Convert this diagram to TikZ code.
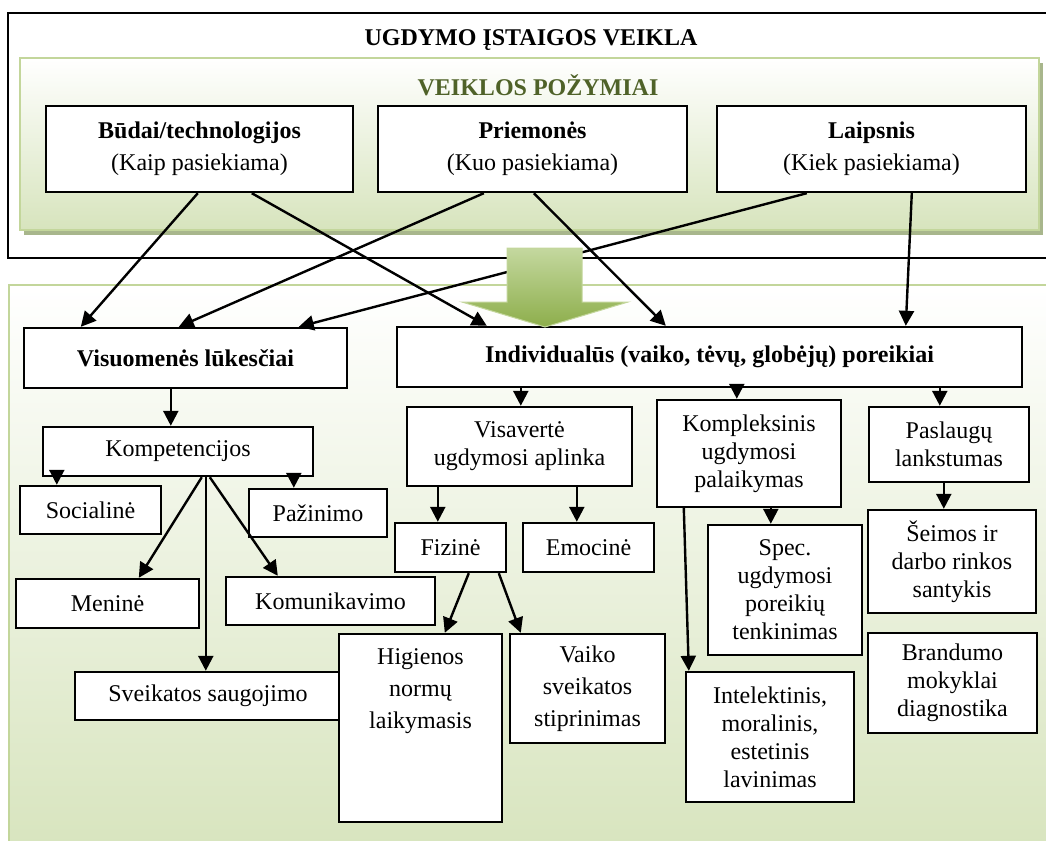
\documentclass[tikz,border=0pt]{standalone}
\usepackage{fontspec}
\setmainfont{Liberation Serif}
\usetikzlibrary{arrows.meta,calc,shadows}

\definecolor{panelgreen}{HTML}{D7E4BD}
\definecolor{panelline}{HTML}{C3D69B}
\definecolor{olivetext}{HTML}{4F6228}
\definecolor{shadowgreen}{RGB}{168,182,140}
\definecolor{arrowlight}{HTML}{C4D89F}
\definecolor{arrowdark}{HTML}{8DAE4B}

\tikzset{
  box/.style={draw=black, fill=white, line width=1.2pt, inner sep=0pt, align=center,
    font=\fontsize{12}{14}\selectfont,
    drop shadow={shadow xshift=0.6pt, shadow yshift=-0.6pt, fill=black!55, opacity=0.6}},
  tall/.style={font=\fontsize{12}{16}\selectfont},
  headbox/.style={font=\bfseries\fontsize{12}{14}\selectfont},
  conn/.style={line width=1.2pt, -{Triangle[length=7.5pt,width=7.5pt]}},
  panel/.style={draw=panelline, line width=1pt, top color=white, bottom color=panelgreen},
}

% \boxat[options]{name}{x1}{y1}{x2}{y2}{text}: a box given by its corners
\newcommand\boxat[7][]{%
  \node[box,minimum width={(#5-#3)*0.5pt},minimum height={(#6-#4)*0.5pt},#1]
    (#2) at ({(#3+#5)/2},{(#4+#6)/2}) {#7};}

\begin{document}
\begin{tikzpicture}[x=0.5pt,y=-0.5pt]
\useasboundingbox (0,0) rectangle (1046,841);

% lower panel
\draw[panel] (9,285) rectangle (1070,860);

% outer frame of the institution's activity
\draw[line width=1.2pt] (8,13) rectangle (1060,258);
\node[headbox] (title) at (531,40) {UGDYMO ĮSTAIGOS VEIKLA};

% features panel with its shadow
\fill[shadowgreen] (24,63) rectangle (1043,235);
\draw[panel] (20,58) rectangle (1039,230);
\node[headbox, text=olivetext] (features) at (538,85) {VEIKLOS POŽYMIAI};

% feature boxes
\boxat[tall]{budai}{46}{106}{353}{192}{\textbf{Būdai/technologijos}\\(Kaip pasiekiama)}
\boxat[tall]{priem}{378}{106}{687}{192}{\textbf{Priemonės}\\(Kuo pasiekiama)}
\boxat[tall]{laips}{717}{106}{1026}{192}{\textbf{Laipsnis}\\(Kiek pasiekiama)}

% needs
\boxat[headbox]{vis}{24}{328}{347}{388}{Visuomenės lūkesčiai}
\boxat[headbox]{ind}{397}{327}{1022}{387}{Individualūs (vaiko, tėvų, globėjų) poreikiai}

% competences
\boxat{komp}{43}{427}{313}{476}{Kompetencijos}
\boxat{soc}{20}{486}{161}{534}{Socialinė}
\boxat{paz}{249}{489}{387}{537}{Pažinimo}
\boxat{men}{16}{579}{199}{628}{Meninė}
\boxat{kom}{226}{577}{435}{625}{Komunikavimo}
\boxat{sve}{75}{672}{341}{720}{Sveikatos saugojimo}

% environment
\boxat{visa}{407}{407}{632}{486}{Visavertė\\ugdymosi aplinka}
\boxat{fiz}{395}{523}{506}{572}{Fizinė}
\boxat{emo}{523}{523}{654}{572}{Emocinė}
\boxat{hig}{339}{634}{502}{822}{}
\node[tall, align=center] (higtxt) at (420.5,691) {Higienos\\normų\\laikymasis};
\boxat[tall]{vai}{510}{634}{665}{743}{Vaiko\\sveikatos\\stiprinimas}

% support and flexibility
\boxat{kpl}{657}{400}{841}{507}{Kompleksinis\\ugdymosi\\palaikymas}
\boxat{pas}{869}{407}{1029}{482}{Paslaugų\\lankstumas}
\boxat{spec}{708}{525}{862}{655}{Spec.\\ugdymosi\\poreikių\\tenkinimas}
\boxat{sei}{868}{510}{1036}{613}{Šeimos ir\\darbo rinkos\\santykis}
\boxat{bra}{868}{633}{1037}{733}{Brandumo\\mokyklai\\diagnostika}
\boxat{int}{686}{672}{854}{802}{Intelektinis,\\moralinis,\\estetinis\\lavinimas}

% connectors from the features
\draw[conn] ($(budai.south west)+(153,0)$) -- ($(vis.north west)+(58,0)$);
\draw[conn] ($(budai.south west)+(207,0)$) -- ($(ind.north west)+(91,0)$);
\draw[conn] ($(priem.south west)+(107,0)$) -- ($(vis.north west)+(156,0)$);
\draw[conn] ($(priem.south west)+(157,0)$) -- ($(ind.north west)+(270,0)$);
\draw[conn] ($(laips.south west)+(91,0)$) -- ($(vis.north west)+(276,0)$);
\draw[conn] ($(laips.south west)+(196,0)$) -- ($(ind.north west)+(510,0)$);

% connectors on the left
\draw[conn] ($(vis.south west)+(148,0)$) -- ($(komp.north west)+(129,0)$);
\draw[conn] ($(komp.south west)+(15,0)$) -- ($(soc.north west)+(38,0)$);
\draw[conn] ($(komp.south west)+(252,0)$) -- ($(paz.north west)+(46,0)$);
\draw[conn] ($(komp.south west)+(160,0)$) -- ($(men.north west)+(124,0)$);
\draw[conn] ($(komp.south west)+(164,0)$) -- ($(sve.north west)+(132,0)$);
\draw[conn] ($(komp.south west)+(168,0)$) -- ($(kom.north west)+(53,0)$);

% connectors on the right
\draw[conn] ($(ind.south west)+(125,0)$) -- ($(visa.north west)+(115,0)$);
\draw[conn] ($(ind.south west)+(341,0)$) -- ($(kpl.north west)+(81,0)$);
\draw[conn] ($(ind.south west)+(544,0)$) -- ($(pas.north west)+(72,0)$);
\draw[conn] ($(visa.south west)+(32,0)$) -- ($(fiz.north west)+(44,0)$);
\draw[conn] ($(visa.south west)+(171,0)$) -- ($(emo.north west)+(55,0)$);
\draw[conn] ($(fiz.south west)+(75,0)$) -- ($(hig.north west)+(107,0)$);
\draw[conn] ($(fiz.south west)+(105,0)$) -- ($(vai.north west)+(12,0)$);
\draw[conn] ($(kpl.south west)+(115,0)$) -- ($(spec.north west)+(64,0)$);
\draw[conn] ($(kpl.south west)+(28,0)$) -- ($(int.north west)+(4,0)$);
\draw[conn] ($(pas.south west)+(76,0)$) -- ($(sei.north west)+(77,0)$);

% broad arrow from the features to the needs
\draw[draw=panelline, line width=0.5pt, top color=arrowlight, bottom color=arrowdark]
  (507,248) -- (582,248) -- (582,302) -- (628,302) -- (545,327) -- (462,302) -- (507,302) -- cycle;
\end{tikzpicture}
\end{document}
